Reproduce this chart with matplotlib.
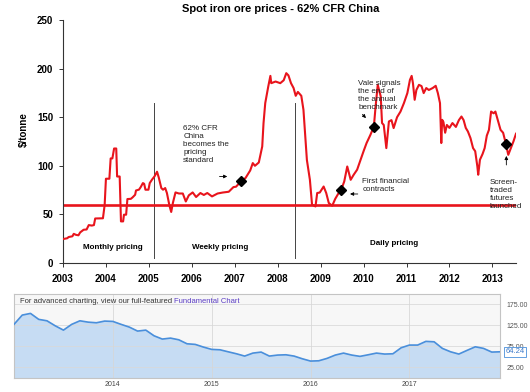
import matplotlib
matplotlib.use("Agg")
import matplotlib.pyplot as plt
import matplotlib.transforms as mtransforms
import numpy as np

plt.rcParams["font.family"] = ["Liberation Sans", "DejaVu Sans"]

# --- main chart: spot iron ore price, $/tonne ---
price_years = [
    2003.01, 2003.10, 2003.13, 2003.22, 2003.25, 2003.30, 2003.36, 2003.40, 2003.48, 2003.55,
    2003.60, 2003.67, 2003.72, 2003.75, 2003.87, 2003.93, 2003.97, 2004.00, 2004.08, 2004.11,
    2004.15, 2004.19, 2004.24, 2004.26, 2004.32, 2004.35, 2004.40, 2004.42, 2004.47, 2004.50,
    2004.58, 2004.62, 2004.68, 2004.70, 2004.77, 2004.81, 2004.86, 2004.89, 2004.92, 2004.99,
    2005.02, 2005.07, 2005.13, 2005.19, 2005.23, 2005.29, 2005.33, 2005.38, 2005.42, 2005.48,
    2005.52, 2005.56, 2005.62, 2005.70, 2005.79, 2005.86, 2005.93, 2006.02, 2006.10, 2006.20,
    2006.28, 2006.36, 2006.47, 2006.60, 2006.72, 2006.86, 2006.97, 2007.03, 2007.15, 2007.25,
    2007.36, 2007.42, 2007.47, 2007.56, 2007.64, 2007.67, 2007.71, 2007.78, 2007.83, 2007.85,
    2007.95, 2008.06, 2008.14, 2008.20, 2008.25, 2008.31, 2008.37, 2008.42, 2008.47, 2008.55,
    2008.60, 2008.68, 2008.75, 2008.80, 2008.88, 2008.92, 2008.98, 2009.07, 2009.13, 2009.19,
    2009.27, 2009.34, 2009.42, 2009.48, 2009.55, 2009.62, 2009.70, 2009.77, 2009.85, 2009.93,
    2010.00, 2010.07, 2010.16, 2010.24, 2010.28, 2010.33, 2010.40, 2010.43, 2010.47, 2010.53,
    2010.59, 2010.65, 2010.70, 2010.78, 2010.86, 2010.94, 2011.02, 2011.08, 2011.12, 2011.15,
    2011.19, 2011.23, 2011.29, 2011.35, 2011.40, 2011.46, 2011.52, 2011.61, 2011.68, 2011.73,
    2011.78, 2011.81, 2011.83, 2011.86, 2011.90, 2011.94, 2012.00, 2012.07, 2012.15, 2012.22,
    2012.28, 2012.33, 2012.38, 2012.43, 2012.49, 2012.55, 2012.60, 2012.65, 2012.67, 2012.71,
    2012.77, 2012.82, 2012.87, 2012.92, 2012.97, 2013.03, 2013.07, 2013.12, 2013.19, 2013.25,
    2013.31, 2013.37, 2013.43, 2013.49, 2013.55,
]
price_vals = [
    24.7, 25.5, 26.7, 27.5, 30.0, 29.0, 28.5, 31.5, 34.2, 34.5,
    39.0, 38.5, 39.0, 45.8, 46.0, 46.0, 59.6, 86.7, 86.7, 107.6,
    107.6, 117.8, 117.8, 89.0, 89.0, 42.8, 42.8, 49.7, 49.7, 65.8,
    66.0, 67.5, 70.2, 74.6, 75.5, 78.1, 82.2, 81.5, 75.4, 75.4,
    82.2, 85.6, 89.0, 93.9, 88.0, 77.1, 75.4, 77.1, 72.0, 58.9,
    52.5, 62.0, 72.6, 71.5, 71.5, 63.3, 69.6, 72.6, 67.9, 72.0,
    70.0, 72.0, 68.5, 71.5, 72.5, 73.3, 78.1, 78.5, 84.3, 87.4,
    95.2, 102.8, 100.0, 103.4, 119.9, 143.9, 164.5, 181.5, 192.5, 185.0,
    186.7, 185.0, 188.0, 195.3, 193.0, 185.0, 180.0, 172.0, 176.0, 172.0,
    157.6, 106.0, 85.6, 60.0, 58.2, 72.0, 72.5, 78.7, 72.0, 61.7,
    58.9, 66.0, 72.0, 75.4, 83.9, 99.3, 85.6, 90.8, 96.0, 106.2,
    115.0, 123.4, 131.9, 140.4, 161.0, 183.3, 171.3, 144.0, 142.0, 118.2,
    145.6, 147.0, 138.8, 150.0, 155.8, 164.5, 174.8, 188.4, 192.5, 185.0,
    167.9, 178.0, 183.3, 182.0, 174.8, 180.0, 178.0, 180.0, 182.3, 174.8,
    164.5, 123.4, 147.3, 145.0, 134.0, 142.0, 139.0, 144.0, 140.0, 147.0,
    150.7, 147.0, 139.0, 135.3, 128.5, 118.2, 115.0, 99.3, 90.8, 106.2,
    112.0, 118.2, 131.0, 137.0, 155.8, 154.0, 155.8, 148.0, 137.0, 134.0,
    123.4, 111.3, 118.2, 125.0, 133.0,
]
benchmark_level = 60
phase_breaks = [2005.13, 2008.41]
phase_labels = ["Monthly pricing", "Weekly pricing", "Daily pricing"]
year_ticks = list(range(2003, 2014))
price_ticks = [0, 50, 100, 150, 200, 250]

event_years = [2007.15, 2009.48, 2010.24, 2013.32]
event_prices = [84.4, 75.4, 140.4, 122.3]
event_texts = [
    "62% CFR\nChina\nbecomes the\npricing\nstandard",
    "First financial\ncontracts",
    "Vale signals\nthe end of\nthe annual\nbenchmark",
    "Screen-\ntraded\nfutures\nlaunched",
]

# --- lower panel: monthly price since 2013 ---
mini_start = 2013
mini_vals = [
    126.7, 148.8, 152.8, 138.6, 135.2, 123.3, 113.0, 126.7, 135.2, 132.0,
    130.5, 134.5, 133.7, 126.7, 120.2, 110.7, 113.0, 99.5, 91.7, 94.0,
    90.0, 80.5, 79.0, 72.6, 67.1, 66.2, 61.4, 56.7, 51.2, 58.3,
    60.7, 51.2, 53.6, 54.3, 51.2, 44.8, 39.3, 40.0, 45.7, 53.6,
    58.3, 53.6, 50.5, 54.3, 58.3, 56.0, 56.7, 71.0, 77.4, 77.4,
    86.2, 85.2, 69.5, 61.4, 56.0, 64.8, 73.3, 69.5, 60.7, 61.4,
]
mini_year_ticks = [2014, 2015, 2016, 2017]
mini_price_ticks = [25, 75, 125, 175]
mini_last_label = "64.24"

RED = "#e8141c"
W, H = 530, 392

fig = plt.figure(figsize=(W / 100, H / 100), dpi=100)
fig.patch.set_facecolor("white")

ax = fig.add_axes([63 / W, 1 - 263 / H, (516 - 63) / W, (263 - 20) / H])
ax.set_xlim(2003, 2013.55)
ax.set_ylim(0, 250)
for side in ["top", "right"]:
    ax.spines[side].set_visible(False)
for side in ["left", "bottom"]:
    ax.spines[side].set_color("#333333")
    ax.spines[side].set_linewidth(0.8)

ax.axhline(benchmark_level, color=RED, lw=1.9, zorder=2)
ax.plot(price_years, price_vals, color=RED, lw=1.5, zorder=3)
for xb in phase_breaks:
    ax.plot([xb, xb], [5, 165], color="#444444", lw=0.7, zorder=1)

ax.plot(event_years, event_prices, "D", color="black", ms=5.5, zorder=4)

ax.set_xticks(year_ticks)
ax.set_xticklabels([str(y) for y in year_ticks], fontweight="bold", fontsize=7)
ax.set_yticks(price_ticks)
ax.set_yticklabels([str(v) for v in price_ticks], fontweight="bold", fontsize=7)
ax.tick_params(axis="both", direction="out", length=3, width=0.7, color="#333333")
ax.tick_params(axis="x", pad=5)
ax.tick_params(axis="y", pad=4)

fig.text(281 / W, 1 - 9 / H, "Spot iron ore prices - 62% CFR China",
         ha="center", va="center", fontweight="bold", fontsize=8)
fig.text(24 / W, 1 - 130 / H, r"\$/tonne", rotation=90, ha="center", va="center",
         fontweight="bold", fontsize=7)

# pricing regime labels
ax.text(2004.15, 16, phase_labels[0], ha="center", va="center", fontweight="bold", fontsize=5.8)
ax.text(2006.66, 16, phase_labels[1], ha="center", va="center", fontweight="bold", fontsize=5.8)
ax.text(2010.7, 20, phase_labels[2], ha="center", va="center", fontweight="bold", fontsize=5.8)

# event annotations
arrow = dict(arrowstyle="-|>", color="black", lw=0.6, mutation_scale=5)
ax.text(2005.8, 142, event_texts[0], ha="left", va="top", fontsize=5.8, color="#222222")
ax.annotate("", xy=(2006.89, 89), xytext=(2006.58, 89), arrowprops=arrow)

ax.text(2009.97, 80, event_texts[1], ha="left", va="center", fontsize=5.8, color="#222222")
ax.annotate("", xy=(2009.62, 71), xytext=(2009.93, 71), arrowprops=arrow)

ax.text(2009.88, 188, event_texts[2], ha="left", va="top", fontsize=5.8, color="#222222")
ax.annotate("", xy=(2010.1, 147), xytext=(2009.93, 155), arrowprops=arrow)

ax.text(2012.93, 86, event_texts[3], ha="left", va="top", fontsize=5.8, color="#222222")
ax.annotate("", xy=(2013.325, 113), xytext=(2013.325, 98), arrowprops=arrow)

# --- lower panel ---
ax2 = fig.add_axes([14 / W, 1 - 378 / H, (500 - 14) / W, (378 - 294) / H])
mini_years = mini_start + np.arange(len(mini_vals)) / 12
ax2.set_xlim(mini_years[0], mini_years[-1])
ax2.set_ylim(-1, 199)
ax2.set_facecolor("#f7f7f7")
ax2.fill_between(mini_years, mini_vals, -1, color="#c6dcf3", zorder=1)
for v in mini_price_ticks:
    ax2.axhline(v, color="#d9d9d9", lw=0.7, alpha=0.8, zorder=2)
for y in mini_year_ticks:
    ax2.axvline(y, color="#d6d6d6", lw=0.7, alpha=0.8, zorder=2)
ax2.plot(mini_years, mini_vals, color="#4a8fdb", lw=1.2, zorder=3)
for side in ax2.spines.values():
    side.set_color("#c4c4c4")
    side.set_linewidth(0.8)

ax2.yaxis.tick_right()
ax2.set_yticks(mini_price_ticks)
ax2.set_yticklabels([f"{v:.2f}" for v in mini_price_ticks], fontsize=5, color="#555555")
ax2.set_xticks(mini_year_ticks)
ax2.set_xticklabels([str(y) for y in mini_year_ticks], fontsize=5, color="#444444")
ax2.tick_params(axis="both", length=0)
ax2.tick_params(axis="y", pad=5)
ax2.tick_params(axis="x", pad=2.5)

t1 = ax2.text(0.012, 0.95, "For advanced charting, view our full-featured ",
              transform=ax2.transAxes, ha="left", va="top", fontsize=5.5, color="#333333")
ax2.annotate("Fundamental Chart", xy=(1, 0), xycoords=t1, ha="left", va="bottom",
             fontsize=5.5, color="#5a3cc4")

trans = mtransforms.blended_transform_factory(ax2.transAxes, ax2.transData)
ax2.text(1.012, mini_vals[-1], mini_last_label, transform=trans, ha="left", va="center",
         fontsize=5.5, color="#3a78c8", zorder=5, clip_on=False,
         bbox=dict(boxstyle="square,pad=0.2", fc="white", ec="#4a8fdb", lw=0.6))

fig.savefig("out.png", dpi=100)
